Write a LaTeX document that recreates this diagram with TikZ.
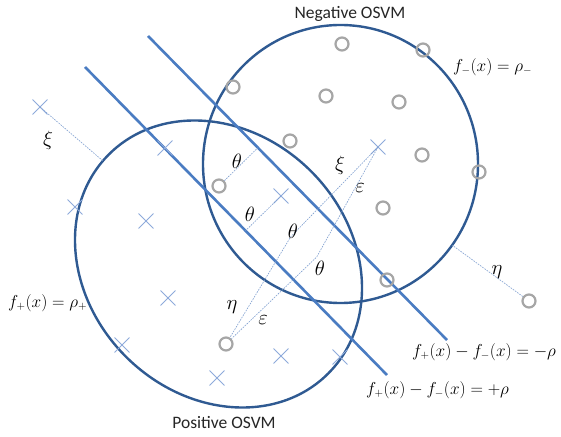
\documentclass[tikz,border=0pt]{standalone}
\usepackage{fontspec}
\setmainfont{Carlito}
\usetikzlibrary{shapes.misc,calc}
\definecolor{ringblue}{HTML}{2F5A92}
\definecolor{lineblue}{HTML}{4A7CC2}
\definecolor{crossblue}{HTML}{8EAADB}
\definecolor{dotblue}{HTML}{7F9FD0}
\definecolor{ptgray}{HTML}{A6A6A6}
\tikzset{
  negpt/.style={circle, draw=ptgray, line width=2.2pt, minimum size=13pt, inner sep=0pt},
  pospt/.style={cross out, draw=crossblue, line width=0.9pt, minimum size=14pt, inner sep=0pt},
  ring/.style={draw=ringblue, line width=2.4pt},
  sep/.style={draw=lineblue, line width=2.6pt},
  gap/.style={draw=dotblue, line width=0.6pt, dash pattern=on 1.6pt off 1.1pt},
  greek/.style={font=\fontsize{21}{24}\selectfont, inner sep=0pt},
  eqn/.style={font=\fontsize{16}{19}\selectfont, inner sep=0pt, anchor=west},
  title/.style={font=\fontsize{17.5}{20}\selectfont, text=black!85, inner sep=0pt}
}
\begin{document}
\begin{tikzpicture}[x=1pt,y=1pt]
\useasboundingbox[fill=white] (0,0) rectangle (561,436);
% spheres
\draw[ring] (340.5,272) ellipse [x radius=137.5pt, y radius=139pt];
\draw[ring, rotate around={-45:(218.5,172)}] (218.5,172) ellipse [x radius=155pt, y radius=131pt];
% separating lines
\coordinate (l1a) at (85,369);
\coordinate (l1b) at (387,61);
\coordinate (l2a) at (148,400);
\coordinate (l2b) at (447,96);
\draw[sep] (l1a) -- (l1b);
\draw[sep] (l2a) -- (l2b);
% negative samples
\node[negpt] (o1) at (342,392) {};
\node[negpt] (o2) at (423,386) {};
\node[negpt] (o3) at (233,349) {};
\node[negpt] (o4) at (326,340) {};
\node[negpt] (o5) at (399,334) {};
\node[negpt] (o6) at (290,295) {};
\node[negpt] (o7) at (422,281) {};
\node[negpt] (o8) at (479,264) {};
\node[negpt] (o9) at (219,250) {};
\node[negpt] (o10) at (383,228) {};
\node[negpt] (o11) at (387,156) {};
\node[negpt] (o12) at (529,135) {};
\node[negpt] (o13) at (226,92) {};
% positive samples
\node[pospt] (x1) at (40,329) {};
\node[pospt] (x2) at (165,288) {};
\node[pospt] (x3) at (75,229) {};
\node[pospt] (x4) at (146,215) {};
\node[pospt] (x5) at (281,240) {};
\node[pospt] (x6) at (378,289) {};
\node[pospt] (x7) at (168,138) {};
\node[pospt] (x8) at (122,91) {};
\node[pospt] (x9) at (217,58) {};
\node[pospt] (x10) at (281,80) {};
\node[pospt] (x11) at (340,79) {};
% auxiliary points
\coordinate (xiend) at (103,275);
\coordinate (etaend) at (452.4,190.7);
\coordinate (q1) at (290.7,199.2);
\coordinate (q2) at (316.7,179);
% slack / margin distances
\draw[gap] (x1.center) -- (xiend);
\draw[gap] (o12) -- (etaend);
\draw[gap] (o9) -- ($(l2a)!(o9)!(l2b)$);
\draw[gap] (x5.center) -- ($(l1a)!(x5)!(l1b)$);
\draw[gap] (x6.center) -- (q1) -- (o13);
\draw[gap] (x6.center) -- (q2) -- (o13);
% greek labels
\node[greek] (lxi1) at (48,296) {$\xi$};
\node[greek] (lth1) at (237,275) {$\theta$};
\node[greek] (lth2) at (250,222) {$\theta$};
\node[greek] (lth3) at (293,205) {$\theta$};
\node[greek] (lth4) at (320,168) {$\theta$};
\node[greek] (lxi2) at (340,271) {$\xi$};
\node[greek] (leps1) at (360,248) {$\varepsilon$};
\node[greek] (leta1) at (232,129) {$\eta$};
\node[greek] (leps2) at (263,116) {$\varepsilon$};
\node[greek] (leta2) at (497,164) {$\eta$};
% equations
\node[eqn] (fneg) at (453,369) {$f_{-}(x)=\rho_{-}$};
\node[eqn] (fpos) at (8,133) {$f_{+}(x)=\rho_{+}$};
\node[eqn] (dneg) at (412,84) {$f_{+}(x)-f_{-}(x)=-\rho$};
\node[eqn] (dpos) at (366,46) {$f_{+}(x)-f_{-}(x)=+\rho$};
% titles
\node[title] (tneg) at (350,422) {Negative OSVM};
\node[title] (tpos) at (224,13) {Positive OSVM};
\end{tikzpicture}
\end{document}
